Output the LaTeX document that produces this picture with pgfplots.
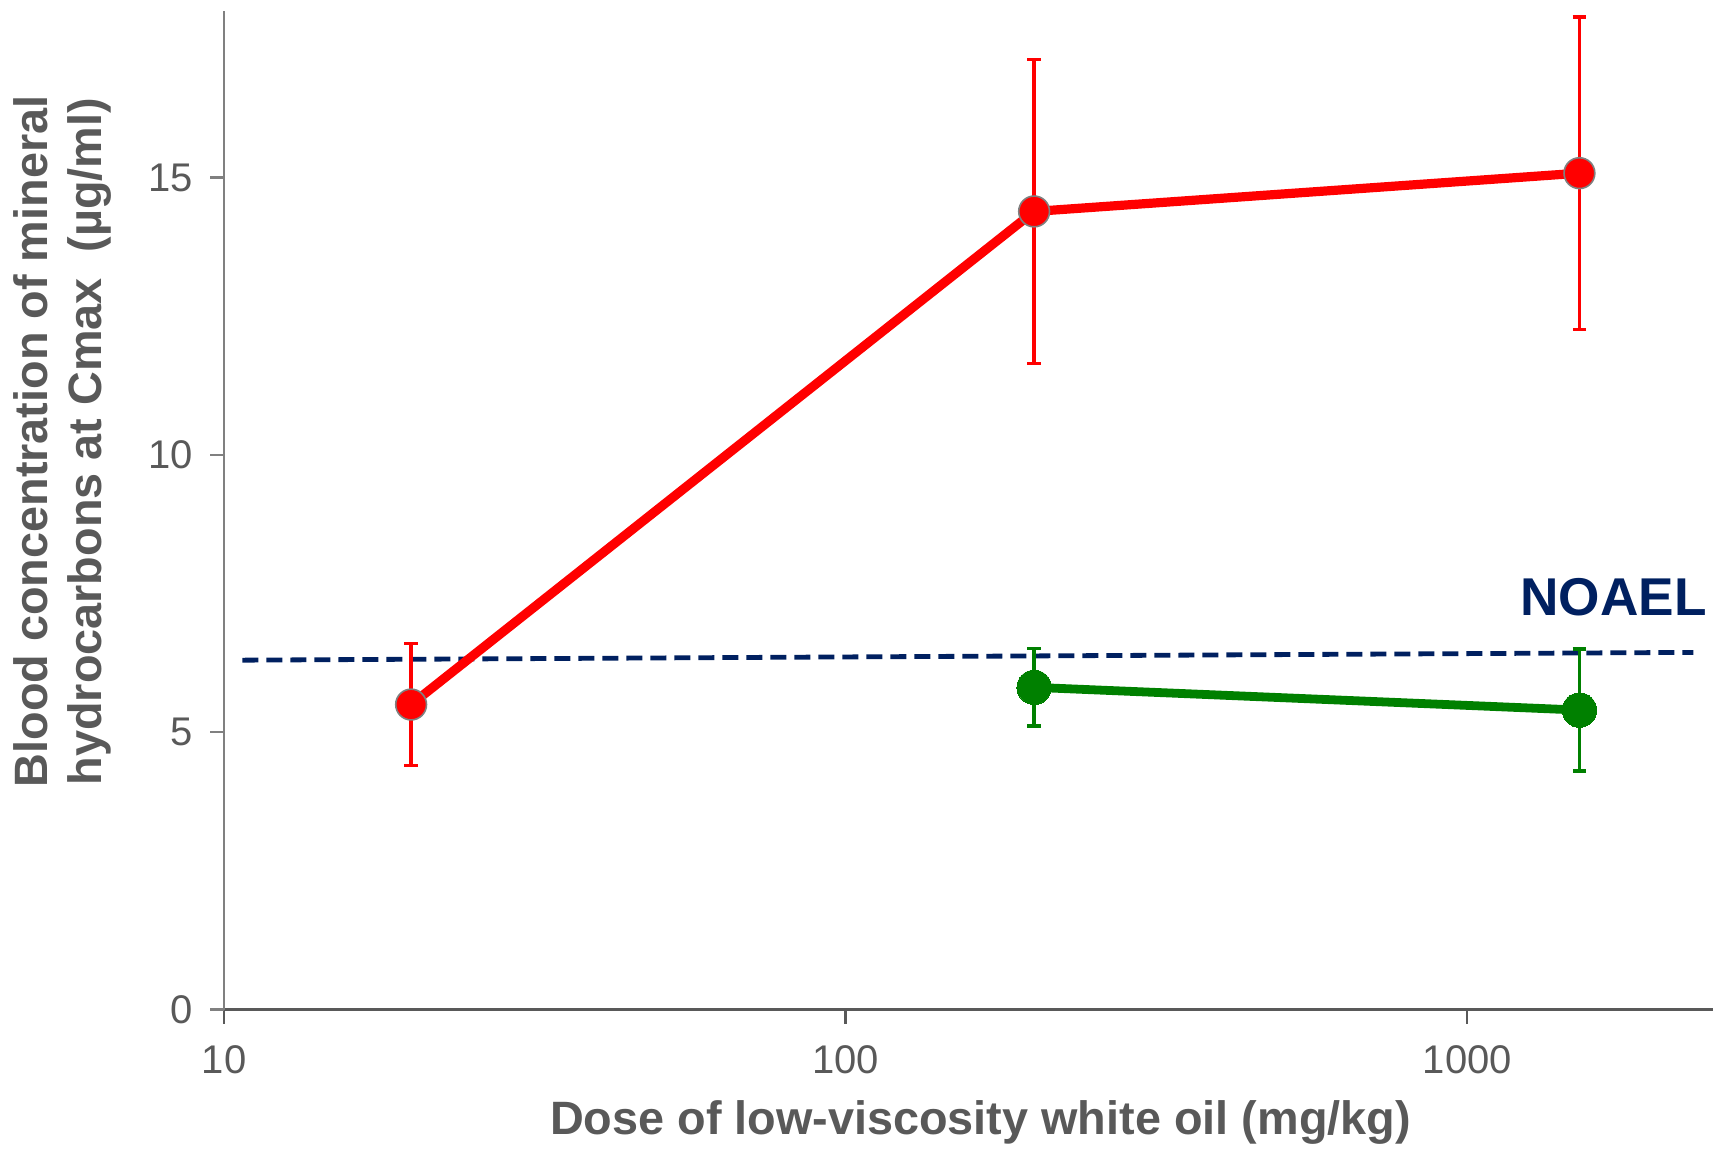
\documentclass[border=0pt]{standalone}
\usepackage{pgfplots}
\pgfplotsset{compat=1.18}
\usepackage{fontspec}
\setmainfont{Liberation Sans}
\definecolor{txtgray}{HTML}{595959}
\definecolor{axgray}{HTML}{808080}
\definecolor{navy}{HTML}{002060}
\definecolor{mygreen}{HTML}{008000}
\definecolor{myred}{HTML}{FF0000}
\begin{document}
\begin{tikzpicture}
\useasboundingbox (0,0) rectangle (428.25pt,287pt);
\begin{axis}[
  at={(56pt,34.6pt)}, anchor=south west,
  scale only axis, width=372.25pt, height=249.6pt,
  xmode=log, xmin=10, xmax=2485, ymin=0, ymax=18,
  axis x line=bottom, axis y line=left,
  x axis line style={-, draw=txtgray, line width=0.75pt},
  y axis line style={-, draw=axgray, line width=0.7pt},
  xtick={10,100,1000}, xticklabels={10,100,1000},
  xminorticks=false,
  ytick={0,5,10,15},
  tick align=outside,
  major tick length=3.5pt,
  x tick style={draw=txtgray, line width=0.6pt},
  y tick style={draw=axgray, line width=0.6pt},
  tick label style={font=\fontsize{10}{12}\selectfont, text=txtgray},
  xticklabel style={yshift=-2pt},
  yticklabel style={xshift=-0.8pt},
  /pgf/number format/assume math mode=true,
  xlabel={Dose of low-viscosity white oil (mg/kg)},
  ylabel={Blood concentration of mineral\\hydrocarbons at Cmax\ \ (µg/ml)},
  xlabel style={font=\fontsize{11.7}{13.4}\selectfont\bfseries, text=txtgray, at={(axis description cs:0.508,-0.1126)}, anchor=center},
  ylabel style={font=\fontsize{11.7}{13.4}\selectfont\bfseries, text=txtgray, align=center, at={(axis description cs:-0.1083,0.569)}, anchor=center},
  clip=false,
]
\addplot[navy, line width=1.2pt, dash pattern=on 4pt off 2pt] coordinates {(10.7,6.30) (2310,6.44)};
\addplot[myred, line width=2.3pt, mark=*, mark size=3.85pt,
  mark options={fill=myred, draw=axgray, line width=0.4pt},
  error bars/.cd, y dir=both, y explicit,
  error bar style={line width=0.9pt, myred},
  error mark options={rotate=90, line width=0.9pt, myred, mark size=1.7pt}]
  coordinates {(20,5.5) +- (0,1.1) (201,14.39) +- (0,2.74) (1515,15.08) +- (0,2.82)};
\addplot[mygreen, line width=2.2pt, mark=*, mark size=4.3pt,
  mark options={fill=mygreen, draw=mygreen, line width=0pt},
  error bars/.cd, y dir=both, y explicit,
  error bar style={line width=0.9pt, mygreen},
  error mark options={rotate=90, line width=0.9pt, mygreen, mark size=1.7pt}]
  coordinates {(201,5.81) +- (0,0.7) (1515,5.40) +- (0,1.1)};
\node[font=\fontsize{13.3}{16}\selectfont\bfseries, text=navy, anchor=center] at (axis cs:1720,7.44) {NOAEL};
\end{axis}
\end{tikzpicture}
\end{document}
